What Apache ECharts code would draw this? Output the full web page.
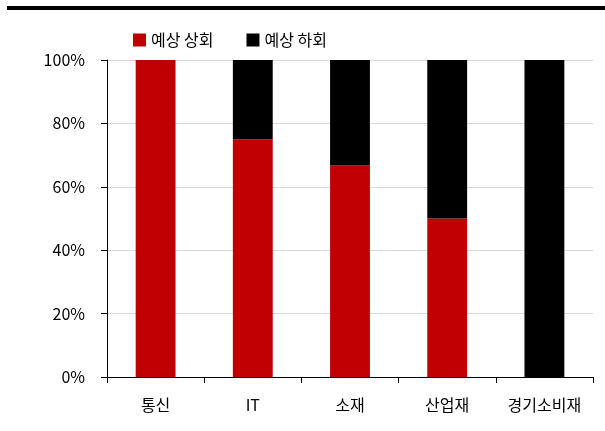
<!DOCTYPE html>
<html>
<head>
<meta charset="utf-8">
<script src="https://cdn.jsdelivr.net/npm/echarts@6/dist/echarts.min.js"></script>
<style>
  html, body { margin: 0; padding: 0; background: #fff; }
  #chart { width: 605px; height: 431px; }
</style>
</head>
<body>
<div id="chart"></div>
<script>
// Sectors and share of earnings surprises (%)
const categories = ['통신', 'IT', '소재', '산업재', '경기소비재'];
const beatShare = [100, 75, 66.7, 50, 0];     // 예상 상회
const missShare = [0, 25, 33.3, 50, 100];     // 예상 하회
const seriesNames = ['예상 상회', '예상 하회'];
const yTicks = [0, 20, 40, 60, 80, 100];

const FONT = '"Noto Sans CJK KR", "Noto Sans", sans-serif';
const chart = echarts.init(document.getElementById('chart'));

chart.setOption({
  animation: false,
  backgroundColor: '#fff',
  textStyle: { fontFamily: FONT, color: '#000' },
  graphic: [{
    type: 'rect',
    left: 7, top: 6,
    shape: { width: 598, height: 4 },
    style: { fill: '#000' }
  }],
  legend: {
    left: 128, top: 27,
    itemWidth: 13, itemHeight: 13, itemGap: 33,
    icon: 'rect',
    textStyle: { fontSize: 16, color: '#000', fontFamily: FONT },
    data: seriesNames
  },
  grid: { left: 107, right: 12, top: 60, bottom: 54 },
  xAxis: {
    type: 'category',
    data: categories,
    axisLine: { lineStyle: { color: '#000', width: 1 } },
    axisTick: { show: true, length: 6, lineStyle: { color: '#000' } },
    axisLabel: { fontSize: 16, color: '#000', margin: 20, fontFamily: FONT }
  },
  yAxis: {
    type: 'value',
    min: yTicks[0], max: yTicks[yTicks.length - 1], interval: 20,
    axisLine: { show: true, lineStyle: { color: '#000', width: 1 } },
    axisTick: { show: true, length: 6, lineStyle: { color: '#000' } },
    splitLine: { show: true, lineStyle: { color: '#d9d9d9', width: 1 } },
    axisLabel: { fontSize: 16, color: '#000', margin: 22, formatter: '{value}%', fontFamily: FONT }
  },
  series: [
    {
      name: seriesNames[0], type: 'bar', stack: 'total',
      data: beatShare, barWidth: '41%',
      itemStyle: { color: '#c00000' }
    },
    {
      name: seriesNames[1], type: 'bar', stack: 'total',
      data: missShare, barWidth: '41%',
      itemStyle: { color: '#000000' }
    }
  ]
});
</script>
</body>
</html>
